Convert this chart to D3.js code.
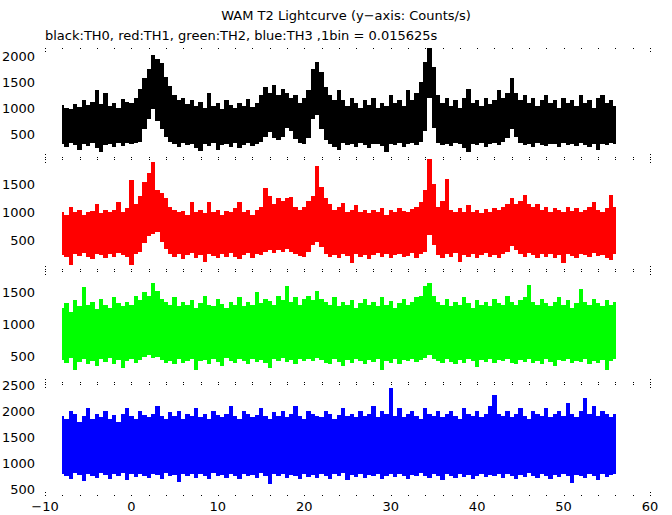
<!DOCTYPE html>
<html><head><meta charset="utf-8">
<script src="https://cdn.jsdelivr.net/npm/d3@7"></script>
<style>body{margin:0;background:#fff}svg{display:block}text{font-family:"DejaVu Sans",sans-serif;font-size:13px;fill:#000}</style>
</head><body>
<script>
// Time grid: 0.5 s steps from -8 to 56 s (envelope of the 1bin = 0.015625 s lightcurve)
const tStart = -8, tStep = 0.5;
const xTicks = [-10, 0, 10, 20, 30, 40, 50, 60];

// TH0 (black) upper / lower envelope, counts/s
const th0Hi = [1060,1000,980,1080,1020,1150,1060,1120,1350,1080,1300,1050,1100,1000,1180,1120,1100,1200,1380,1580,1750,2030,1950,1880,1600,1420,1250,1150,1200,1080,1150,1050,1120,1000,1300,1050,1100,980,1150,1060,1000,1100,1050,1180,1020,1100,1250,1400,1300,1450,1250,1380,1300,1200,1250,1100,1200,1350,1750,1900,1700,1400,1250,1150,1350,1150,1050,1200,1100,1000,1150,1060,1200,1000,1100,1050,1250,1100,1150,1050,1350,1150,1300,1500,1900,2160,1800,1250,1100,1200,1050,1150,1000,1200,1380,1100,1150,1050,1200,1080,1150,1350,1200,1300,1580,1300,1150,1250,1100,1200,1050,1150,1250,1100,1150,1000,1200,1100,1150,1050,1250,1100,1150,1000,1200,1250,1100,1150,1050];
const th0Lo = [300,250,320,280,200,310,260,330,220,150,280,300,250,320,270,330,300,320,350,600,800,980,760,600,450,350,300,250,330,280,300,230,170,300,260,320,200,290,300,250,320,220,280,330,260,300,350,450,540,420,380,450,620,560,400,330,300,420,800,860,600,380,300,250,200,320,280,300,250,330,290,220,300,310,260,160,300,280,320,250,300,330,280,350,550,1190,620,330,290,300,260,320,300,230,150,300,280,320,250,300,330,280,350,420,600,450,330,280,300,250,320,290,260,310,300,240,330,280,300,260,320,290,250,310,200,300,280,320,300];

// TH1 (red)
const th1Hi = [1000,950,1100,1000,1050,950,1000,1030,1150,980,1050,1000,1050,1190,1000,1080,1580,1150,1300,1550,1700,1900,1400,1340,1250,1100,1050,1000,1020,960,1190,1000,1050,980,1190,1000,1050,950,1030,1000,1080,1190,1000,1050,960,1050,1100,1430,1300,1150,1250,1200,1250,1280,1100,1050,1100,1200,1300,1820,1450,1250,1150,1050,1100,1160,1000,1050,1130,1000,1050,980,1050,1000,1080,960,1050,1000,1080,1020,1000,1060,1100,1190,1400,1946,1500,1100,1200,1600,1050,1000,1080,1000,1130,1000,1050,980,1060,1000,1080,1050,1100,1150,1250,1150,1200,1310,1150,1100,1150,1050,1100,1000,1080,1050,1000,1100,1030,1080,1000,1050,1100,1190,1050,1000,1080,1310,1100];
const th1Lo = [230,200,60,250,220,280,200,170,260,230,180,250,200,270,230,210,60,250,300,450,580,620,640,470,350,250,200,250,170,240,280,190,230,120,260,220,180,250,210,270,200,160,240,280,190,250,230,300,330,280,320,290,350,300,250,220,200,300,420,470,380,250,200,240,180,250,220,90,260,200,240,170,230,270,200,250,180,230,260,200,220,270,190,250,300,590,420,230,180,250,210,270,120,240,200,260,180,230,270,200,240,180,260,300,400,320,250,200,270,230,180,250,210,260,190,240,100,250,220,180,260,230,200,270,220,240,190,150,250];

// TH2 (green)
const th2Hi = [1250,1330,1200,1380,1280,1590,1300,1350,1240,1400,1300,1260,1420,1330,1280,1350,1300,1450,1380,1500,1450,1650,1520,1400,1350,1300,1420,1280,1350,1300,1380,1250,1330,1450,1300,1280,1400,1320,1260,1350,1300,1420,1280,1350,1300,1500,1330,1400,1360,1300,1450,1380,1600,1350,1420,1300,1400,1450,1380,1520,1400,1350,1300,1420,1280,1350,1300,1380,1260,1330,1400,1300,1350,1280,1420,1300,1360,1250,1330,1400,1300,1350,1420,1450,1600,1650,1450,1350,1300,1400,1280,1350,1300,1420,1330,1260,1380,1300,1350,1280,1400,1330,1300,1450,1350,1300,1380,1420,1620,1350,1300,1400,1330,1280,1350,1420,1300,1380,1260,1330,1550,1350,1300,1400,1330,1280,1380,1300,1350];
const th2Lo = [450,400,480,300,420,460,380,440,350,470,420,480,390,450,320,430,470,400,450,500,520,480,500,450,400,430,380,460,410,440,470,300,430,450,390,460,420,350,480,440,400,460,430,380,470,420,450,400,330,460,440,480,420,450,390,460,430,470,440,480,450,400,380,460,420,350,450,410,470,430,390,450,420,470,300,440,410,460,380,450,430,470,420,450,480,520,470,430,400,460,420,380,450,410,470,430,340,450,420,460,400,450,430,470,410,380,450,420,460,400,440,390,460,420,350,450,430,470,400,440,420,460,380,440,410,450,300,430,460];

// TH3 (blue)
const th3Hi = [1900,1850,2000,1950,1800,1900,2050,1850,1950,1880,2000,1850,1920,1800,1950,2050,1900,1850,2000,1930,1880,1950,2100,1900,1850,1980,1900,2000,1850,1950,1900,2050,1880,1950,1850,2000,1920,1880,1950,2100,1900,1850,2000,1950,1880,1920,2050,1900,1850,1980,1900,2000,1880,1950,2100,1900,1850,2000,1950,1900,1880,2000,1950,1850,1920,2050,1900,1950,1880,2000,1900,1950,2100,1880,2000,1950,2450,1900,2050,1880,1950,2000,1900,1850,2050,1950,1900,2000,1880,1950,2000,1900,1850,2050,1950,1900,2000,1880,1950,2100,2300,1950,1900,2000,1880,1950,2050,1900,1850,2000,1950,1900,2050,1880,1950,2000,1900,2150,1950,1880,2000,2250,1950,2100,1900,2000,1950,1880,1950];
const th3Lo = [800,750,700,820,780,650,800,760,720,810,770,700,800,750,820,680,790,740,800,760,720,800,770,700,810,750,780,640,800,760,790,720,800,760,700,810,750,780,720,800,760,690,800,750,780,720,810,760,600,790,750,800,720,780,760,700,800,740,780,720,800,760,700,790,750,810,680,770,740,800,720,780,760,800,700,750,790,730,800,760,700,780,750,810,760,720,790,750,680,800,760,720,800,740,780,700,760,800,730,770,750,790,720,800,760,700,780,740,810,750,720,800,760,690,780,740,800,750,620,780,760,720,800,750,680,790,740,770,800];

const panelColors = ["#000000", "#ff0000", "#00ff00", "#0000ff"];
const panelDomains = [[36, 2164], [-30, 1952], [92, 1831], [372, 2519]];
const panelYTicks = [[500, 1000, 1500, 2000], [500, 1000, 1500], [500, 1000, 1500], [500, 1000, 1500, 2000, 2500]];
const series = [[th0Hi, th0Lo], [th1Hi, th1Lo], [th2Hi, th2Lo], [th3Hi, th3Lo]];
const panelTops = [48, 159, 271, 384];
const panelBottoms = [158, 270, 383, 496];

const W = 672, H = 515;
const svg = d3.select("body").append("svg").attr("width", W).attr("height", H);
const x = d3.scaleLinear().domain([-10, 60]).range([45, 650]);

svg.append("text").attr("x", 346).attr("y", 20).attr("text-anchor", "middle")
  .text("WAM T2 Lightcurve (y\u2212axis: Counts/s)");
svg.append("text").attr("x", 45).attr("y", 40)
  .text("black:TH0, red:TH1, green:TH2, blue:TH3 ,1bin = 0.015625s");

const minorT = d3.range(-10, 61, 2);

series.forEach(([hi, lo], p) => {
  const y = d3.scaleLinear().domain(panelDomains[p]).range([panelBottoms[p], panelTops[p]]);
  const data = hi.map((h, i) => ({t: tStart + i * tStep, hi: h, lo: lo[i]}));
  const area = d3.area().curve(d3.curveStep)
    .x(d => x(d.t)).y0(d => y(d.lo)).y1(d => y(d.hi));
  svg.append("path").datum(data).attr("d", area).attr("fill", panelColors[p])
    .attr("shape-rendering", "crispEdges");
  // thin vertical strokes from lo to hi at each sample, like the binned lightcurve
  svg.append("g").attr("stroke", panelColors[p]).attr("stroke-width", 1)
    .attr("shape-rendering", "crispEdges")
    .selectAll("line").data(data).join("line")
    .attr("x1", d => Math.round(x(d.t)) + 0.5).attr("x2", d => Math.round(x(d.t)) + 0.5)
    .attr("y1", d => y(d.lo)).attr("y2", d => y(d.hi));

  // y tick labels
  svg.append("g").selectAll("text").data(panelYTicks[p]).join("text")
    .attr("x", 35).attr("y", d => y(d)).attr("dy", "0.36em").attr("text-anchor", "end")
    .text(d => d);

  // small frame ticks along top and bottom edges
  const g = svg.append("g").attr("fill", "#000");
  g.selectAll("rect.top").data(minorT).join("rect").attr("class", "top")
    .attr("x", d => Math.round(x(d))).attr("y", panelTops[p]).attr("width", 1).attr("height", 1);
  g.selectAll("rect.bot").data(minorT).join("rect").attr("class", "bot")
    .attr("x", d => Math.round(x(d))).attr("y", panelBottoms[p] - 1).attr("width", 1).attr("height", 1);
  g.selectAll("rect.edge").data([-10, 60]).join("rect").attr("class", "edge")
    .attr("x", d => Math.round(x(d))).attr("y", panelTops[p] + 3).attr("width", 1).attr("height", 1);
  g.selectAll("rect.edge2").data([-10, 60]).join("rect").attr("class", "edge2")
    .attr("x", d => Math.round(x(d))).attr("y", panelBottoms[p] - 4).attr("width", 1).attr("height", 1);
});

// bottom x axis labels
svg.append("g").selectAll("text").data(xTicks).join("text")
  .attr("x", d => x(d)).attr("y", 511).attr("text-anchor", "middle")
  .text(d => d < 0 ? "\u2212" + Math.abs(d) : d);
</script>
</body></html>
